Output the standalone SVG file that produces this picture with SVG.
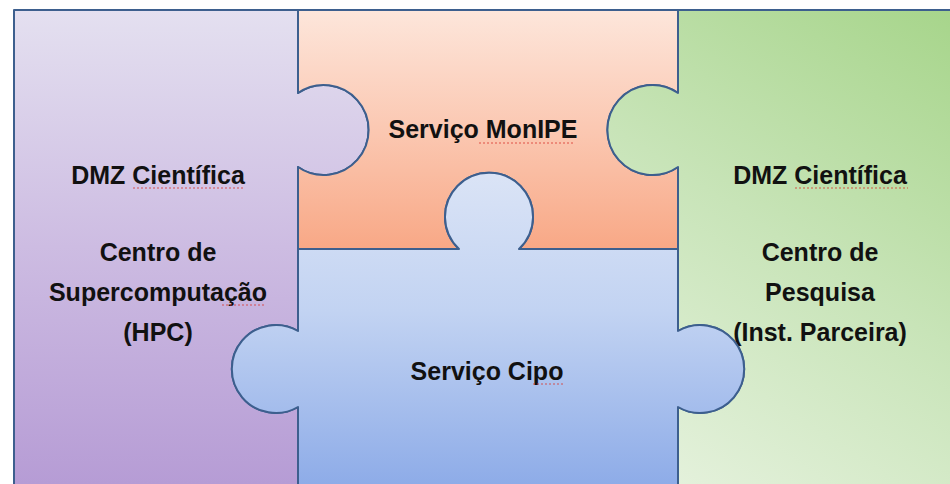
<svg xmlns="http://www.w3.org/2000/svg" width="950" height="484" viewBox="0 0 950 484">
  <defs>
    <linearGradient id="gPurple" gradientUnits="userSpaceOnUse" x1="0" y1="10" x2="0" y2="484">
      <stop offset="0" stop-color="#e4e0f0"/>
      <stop offset="0.5" stop-color="#cdbce2"/>
      <stop offset="1" stop-color="#b69cd5"/>
    </linearGradient>
    <linearGradient id="gOrange" gradientUnits="userSpaceOnUse" x1="0" y1="10" x2="0" y2="249">
      <stop offset="0" stop-color="#fde6db"/>
      <stop offset="0.5" stop-color="#fbc8b2"/>
      <stop offset="1" stop-color="#f8a886"/>
    </linearGradient>
    <linearGradient id="gBlue" gradientUnits="userSpaceOnUse" x1="0" y1="170" x2="0" y2="484">
      <stop offset="0" stop-color="#dbe4f6"/>
      <stop offset="0.45" stop-color="#c2d3f2"/>
      <stop offset="1" stop-color="#8eace8"/>
    </linearGradient>
    <linearGradient id="gGreen" gradientUnits="userSpaceOnUse" x1="950" y1="10" x2="640" y2="484">
      <stop offset="0" stop-color="#a7d58b"/>
      <stop offset="0.5" stop-color="#c8e4b8"/>
      <stop offset="1" stop-color="#e6f2de"/>
    </linearGradient>
    <style>
      .piece { stroke: #3d5f8e; stroke-width: 2; stroke-linejoin: round; }
      .lbl { font-family: "Liberation Sans", Arial, sans-serif; font-weight: bold; font-size: 25px; fill: #111111; text-anchor: middle; }
      .sq { stroke: #d9342b; stroke-width: 1.2; stroke-dasharray: 2 2; fill: none; opacity: 0.8; }
    </style>
  </defs>

  <rect x="0" y="0" width="950" height="484" fill="#ffffff"/>

  <g id="node-hpc">
    <path class="piece" fill="url(#gPurple)" d="M14,10 H298 V93 A45,45 0 1 1 298,167 V331 A44,44 0 1 0 298,407 V490 H14 Z"/>
    <text class="lbl" x="158" y="184">DMZ Científica</text>
    <text class="lbl" x="158" y="261">Centro de</text>
    <text class="lbl" x="158" y="301">Supercomputação</text>
    <text class="lbl" x="158" y="341">(HPC)</text>
  </g>

  <g id="node-monipe">
    <path class="piece" fill="url(#gOrange)" d="M298,10 H678 V93 A45,45 0 1 0 678,167 V249 H519 A44,44 0 1 0 459,249 H298 V167 A45,45 0 1 0 298,93 Z"/>
    <text class="lbl" x="483" y="138">Serviço MonIPE</text>
  </g>

  <g id="node-parceira">
    <path class="piece" fill="url(#gGreen)" d="M678,10 H960 V490 H678 V407 A44,44 0 1 0 678,331 V167 A45,45 0 1 1 678,93 Z"/>
    <text class="lbl" x="820" y="184">DMZ Científica</text>
    <text class="lbl" x="820" y="261">Centro de</text>
    <text class="lbl" x="820" y="301">Pesquisa</text>
    <text class="lbl" x="820" y="341">(Inst. Parceira)</text>
  </g>

  <g id="node-cipo">
    <path class="piece" fill="url(#gBlue)" d="M298,249 H459 A44,44 0 1 1 519,249 H678 V331 A44,44 0 1 1 678,407 V490 H298 V407 A44,44 0 1 1 298,331 Z"/>
    <text class="lbl" x="487" y="380">Serviço Cipo</text>
  </g>

  <g id="connectors"></g>

  <g id="spellcheck">
    <path class="sq" d="M133,188 H243"/>
    <path class="sq" d="M795,188 H908"/>
    <path class="sq" d="M479,143 H575"/>
    <path class="sq" d="M222,305 H266"/>
    <path class="sq" d="M533,384 H565"/>
  </g>
</svg>
